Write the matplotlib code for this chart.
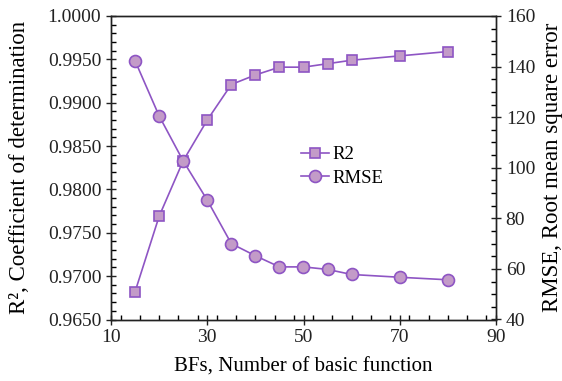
import matplotlib
matplotlib.use("Agg")
import matplotlib.pyplot as plt
from matplotlib.ticker import MultipleLocator, FixedLocator, FormatStrFormatter

plt.rcParams['font.family'] = ['Liberation Serif', 'DejaVu Serif']

bfs = [15, 20, 25, 30, 35, 40, 45, 50, 55, 60, 70, 80]
r2 = [0.9682, 0.9769, 0.9833, 0.9880, 0.9921, 0.9932, 0.9941, 0.9941,
      0.9945, 0.9949, 0.9954, 0.9959]
rmse = [142.3, 120.5, 102.7, 87.2, 70.0, 65.2, 60.8, 60.8, 59.8, 57.8, 56.7, 55.7]
x_ticks = [10, 30, 50, 70, 90]

line_c = '#8e55c4'
face_c = '#c39bc8'

fig = plt.figure(figsize=(5.62, 3.81), dpi=100)
ax = fig.add_axes([111 / 562, 1 - 319.5 / 381, 385 / 562, 303.5 / 381])
ax2 = ax.twinx()

l1, = ax.plot(bfs, r2, color=line_c, lw=1.2, marker='s', ms=7.8,
              mfc=face_c, mec=line_c, mew=1.2, label='R2')
l2, = ax2.plot(bfs, rmse, color=line_c, lw=1.2, marker='o', ms=8.6,
               mfc=face_c, mec=line_c, mew=1.2, label='RMSE')

ax.set_xlim(10, 90)
ax.set_ylim(0.9650, 1.0000)
ax2.set_ylim(40, 160)

ax.xaxis.set_major_locator(FixedLocator(x_ticks))
ax.xaxis.set_minor_locator(MultipleLocator(4))
ax.yaxis.set_major_locator(MultipleLocator(0.005))
ax.yaxis.set_minor_locator(MultipleLocator(0.001))
ax.yaxis.set_major_formatter(FormatStrFormatter('%.4f'))
ax2.yaxis.set_major_locator(MultipleLocator(20))
ax2.yaxis.set_minor_locator(MultipleLocator(5))

for a in (ax, ax2):
    for s in a.spines.values():
        s.set_linewidth(1.0)
        s.set_color('#222222')
ax.tick_params(axis='both', which='major', direction='inout', length=7,
               width=1.0, labelsize=14, colors='#222222', top=False)
ax.tick_params(axis='both', which='minor', direction='in', length=3.5,
               width=1.0, top=False)
ax2.tick_params(axis='y', which='major', direction='inout', length=7,
                width=1.0, labelsize=14, colors='#222222')
ax2.tick_params(axis='y', which='minor', direction='in', length=3.5, width=1.0)

ax.set_xlabel('BFs, Number of basic function', fontsize=15, labelpad=8)
ax.set_ylabel('R², Coefficient of determination', fontsize=16.5, labelpad=13)
ax2.set_ylabel('RMSE, Root mean square error', fontsize=16.5, labelpad=5)

ax.legend(handles=[l1, l2], loc='upper left', bbox_to_anchor=(0.46, 0.615),
          frameon=False, fontsize=13.5, handlelength=1.5, handletextpad=0.15,
          labelspacing=0.35, borderpad=0.2)

fig.savefig('out.png', dpi=100)
